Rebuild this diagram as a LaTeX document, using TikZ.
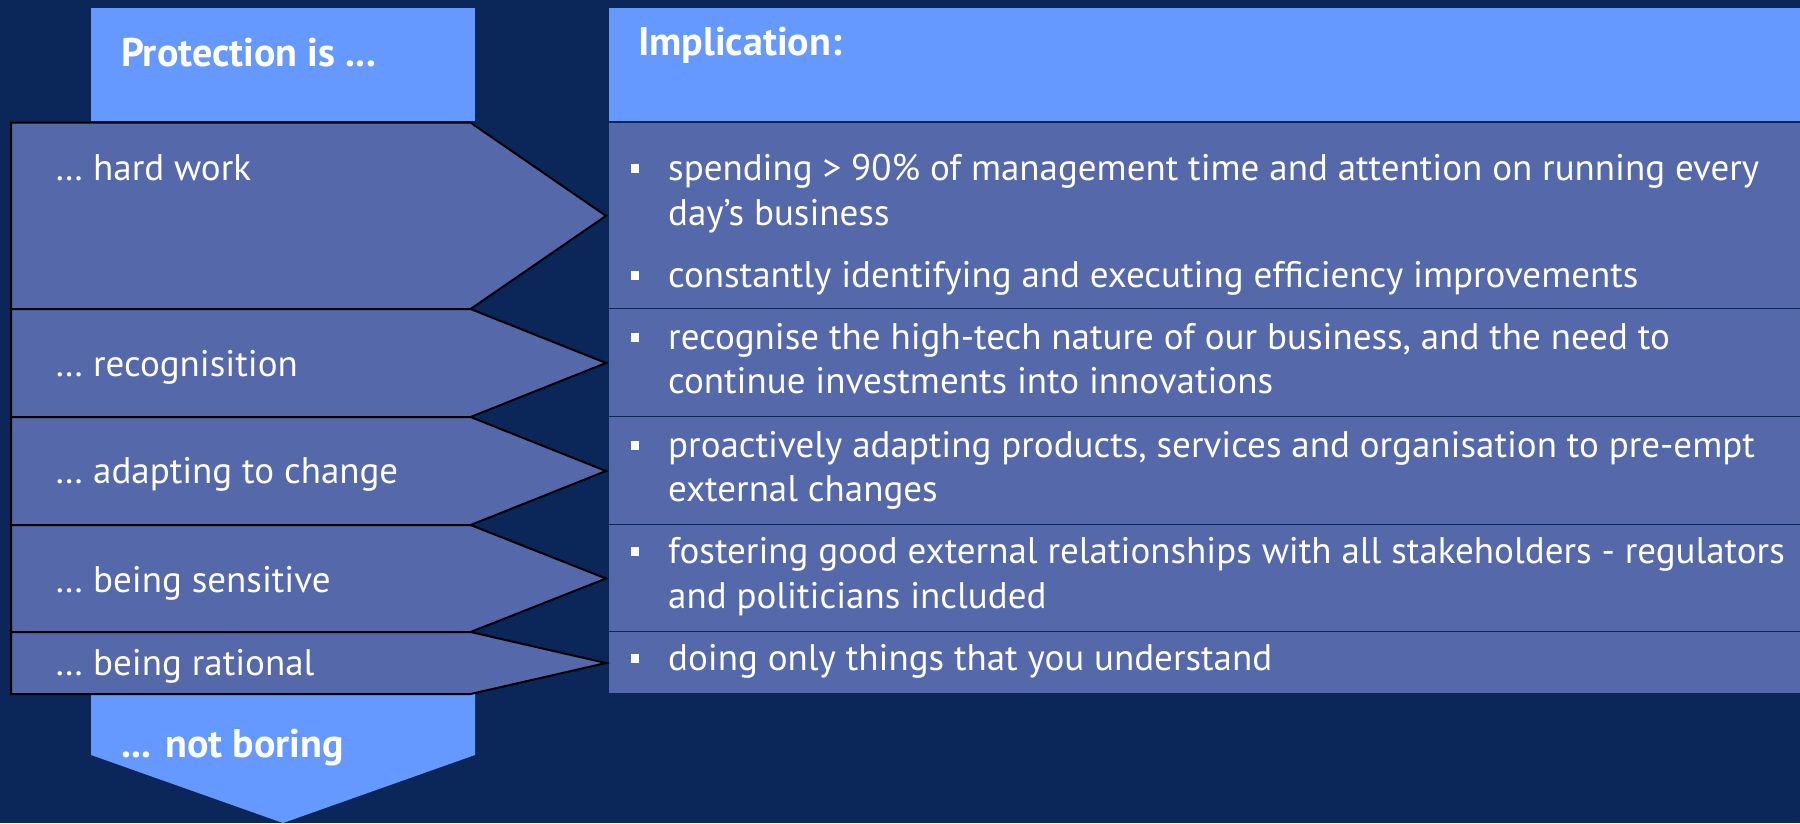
\documentclass[tikz,border=0pt]{standalone}
\usepackage{fontspec}
\setmainfont{PT Sans}
\usepackage{tikz}
\usetikzlibrary{positioning}
\usetikzlibrary{calc}

\begin{document}
\begin{tikzpicture}[x=1pt,y=-1pt]
   \definecolor{navybg}{RGB}{11,38,88};
   \definecolor{skyblue2}{RGB}{102,153,255};
   \definecolor{slateblue2}{RGB}{84,104,170};
   \fill[navybg] (0,0) rectangle (1800,823);
   \useasboundingbox (0,0) rectangle (1800,823);
   % header boxes and the closing arrow
   \fill[skyblue2] (91,8) rectangle (475,121);
   \fill[skyblue2] (609,8) rectangle (1800,121);
   \fill[skyblue2] (91,694) -- (475,694) -- (475,755) -- (283,823) -- (91,755) -- cycle;
   % rows: arrow on the left, band on the right
   \def\rowtop{{122.7,309,417,525,632}};
   \def\rowbot{{309,417,525,632,694}};
   \foreach \r in {0,...,4} {
      \pgfmathsetmacro{\ytop}{\rowtop[\r]}
      \pgfmathsetmacro{\ybot}{\rowbot[\r]}
      \fill[slateblue2] (609,\ytop) rectangle (1800,\ybot);
      \draw[navybg,line width=2] (609,\ybot) -- (1800,\ybot);
      \draw[black,line width=2,fill=slateblue2] (11,\ytop) -- (470.6,\ytop)
         -- (606,{(\ytop+\ybot)/2}) -- (470.6,\ybot) -- (11,\ybot) -- cycle;
   }
   \draw[navybg,line width=2] (609,122) -- (1800,122);
   \tikzstyle{every node}=[text=white,anchor=base west,inner sep=0pt,font=\fontsize{37}{45}\selectfont];
   \tikzstyle{head}=[font=\fontsize{40}{48}\selectfont\bfseries];
   \tikzstyle{bullet}=[fill=white,minimum width=8pt,minimum height=9pt,anchor=south west];
   % titles
   \node[head] (protect) at (121,66) {Protection is ...};
   \node[head] (implic) at (638,55) {Implication:};
   \node[head] (boring) at (121,757) {... not boring};
   % left labels
   \node (hard) at (55,180) {… hard work};
   \node (recog) at (55,376) {… recognisition};
   \node (adapt) at (55,483) {… adapting to change};
   \node (sens) at (55,592) {… being sensitive};
   \node (ratio) at (55,675) {… being rational};
   % bullets
   \foreach \y [count=\i] in {180,287,349,457,563,670}
      \node[bullet] (dot\i) at (631,\y-7) {};
   % implications
   \node (spend) at (668,180) {spending > 90\% of management time and attention on running every};
   \node (spendb) at (668,225) {day’s business};
   \node (effic) at (668,287) {constantly identifying and executing efficiency improvements};
   \node (hitech) at (668,349) {recognise the high-tech nature of our business, and the need to};
   \node (hitechb) at (668,393) {continue investments into innovations};
   \node (proact) at (668,457) {proactively adapting products, services and organisation to pre-empt};
   \node (proactb) at (668,501) {external changes};
   \node (foster) at (668,563) {fostering good external relationships with all stakeholders - regulators};
   \node (fosterb) at (668,608) {and politicians included};
   \node (only) at (668,670) {doing only things that you understand};
\end{tikzpicture}
\end{document}
